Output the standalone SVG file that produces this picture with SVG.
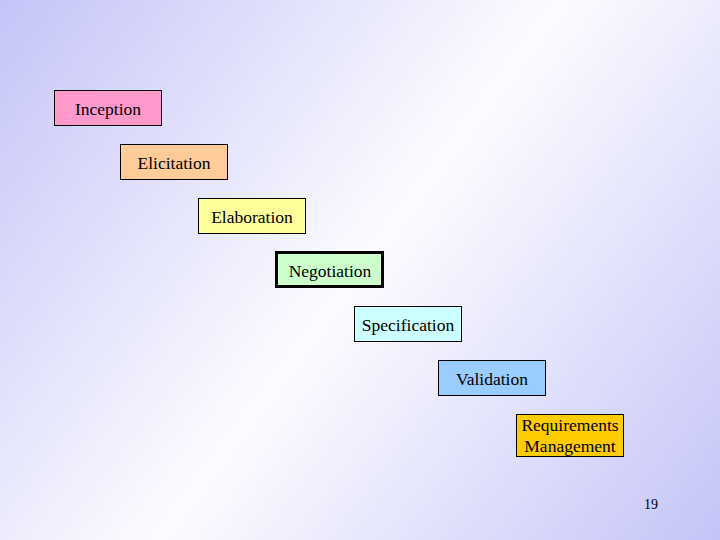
<svg xmlns="http://www.w3.org/2000/svg" width="720" height="540" viewBox="0 0 720 540">
<defs>
<linearGradient id="bg" x1="0" y1="0" x2="720" y2="540" gradientUnits="userSpaceOnUse">
<stop offset="0" stop-color="#c4c4f8"/>
<stop offset="0.5" stop-color="#fcfcff"/>
<stop offset="1" stop-color="#c4c4f8"/>
</linearGradient>
<style>
.box{stroke:#000;stroke-width:1}
.t{font-family:'Liberation Serif','Times New Roman',serif;font-size:17.5px;fill:#000;text-anchor:middle}
</style>
</defs>
<rect width="720" height="540" fill="url(#bg)"/>
<g id="connectors"/>
<g id="inception"><rect class="box" x="54.5" y="90.5" width="107" height="35" fill="#ff99cc"/><text class="t" x="108" y="114.5">Inception</text></g>
<g id="elicitation"><rect class="box" x="120.5" y="144.5" width="107" height="35" fill="#ffcc99"/><text class="t" x="174" y="168.5">Elicitation</text></g>
<g id="elaboration"><rect class="box" x="198.5" y="198.5" width="107" height="35" fill="#ffff99"/><text class="t" x="252" y="222.5">Elaboration</text></g>
<g id="negotiation"><rect x="276.5" y="252.5" width="106" height="34" fill="#ccffcc" stroke="#000" stroke-width="3"/><text class="t" x="330" y="276.5">Negotiation</text></g>
<g id="specification"><rect class="box" x="354.5" y="306.5" width="107" height="35" fill="#ccffff"/><text class="t" x="408" y="330.5">Specification</text></g>
<g id="validation"><rect class="box" x="438.5" y="360.5" width="107" height="35" fill="#99ccff"/><text class="t" x="492" y="384.5">Validation</text></g>
<g id="reqmgmt"><rect class="box" x="516.5" y="414.5" width="107" height="42" fill="#ffcc00"/><text class="t" x="570" y="431">Requirements</text><text class="t" x="570" y="452">Management</text></g>
<text x="651" y="509" font-family="Liberation Serif, Times New Roman, serif" font-size="14" text-anchor="middle">19</text>
</svg>
